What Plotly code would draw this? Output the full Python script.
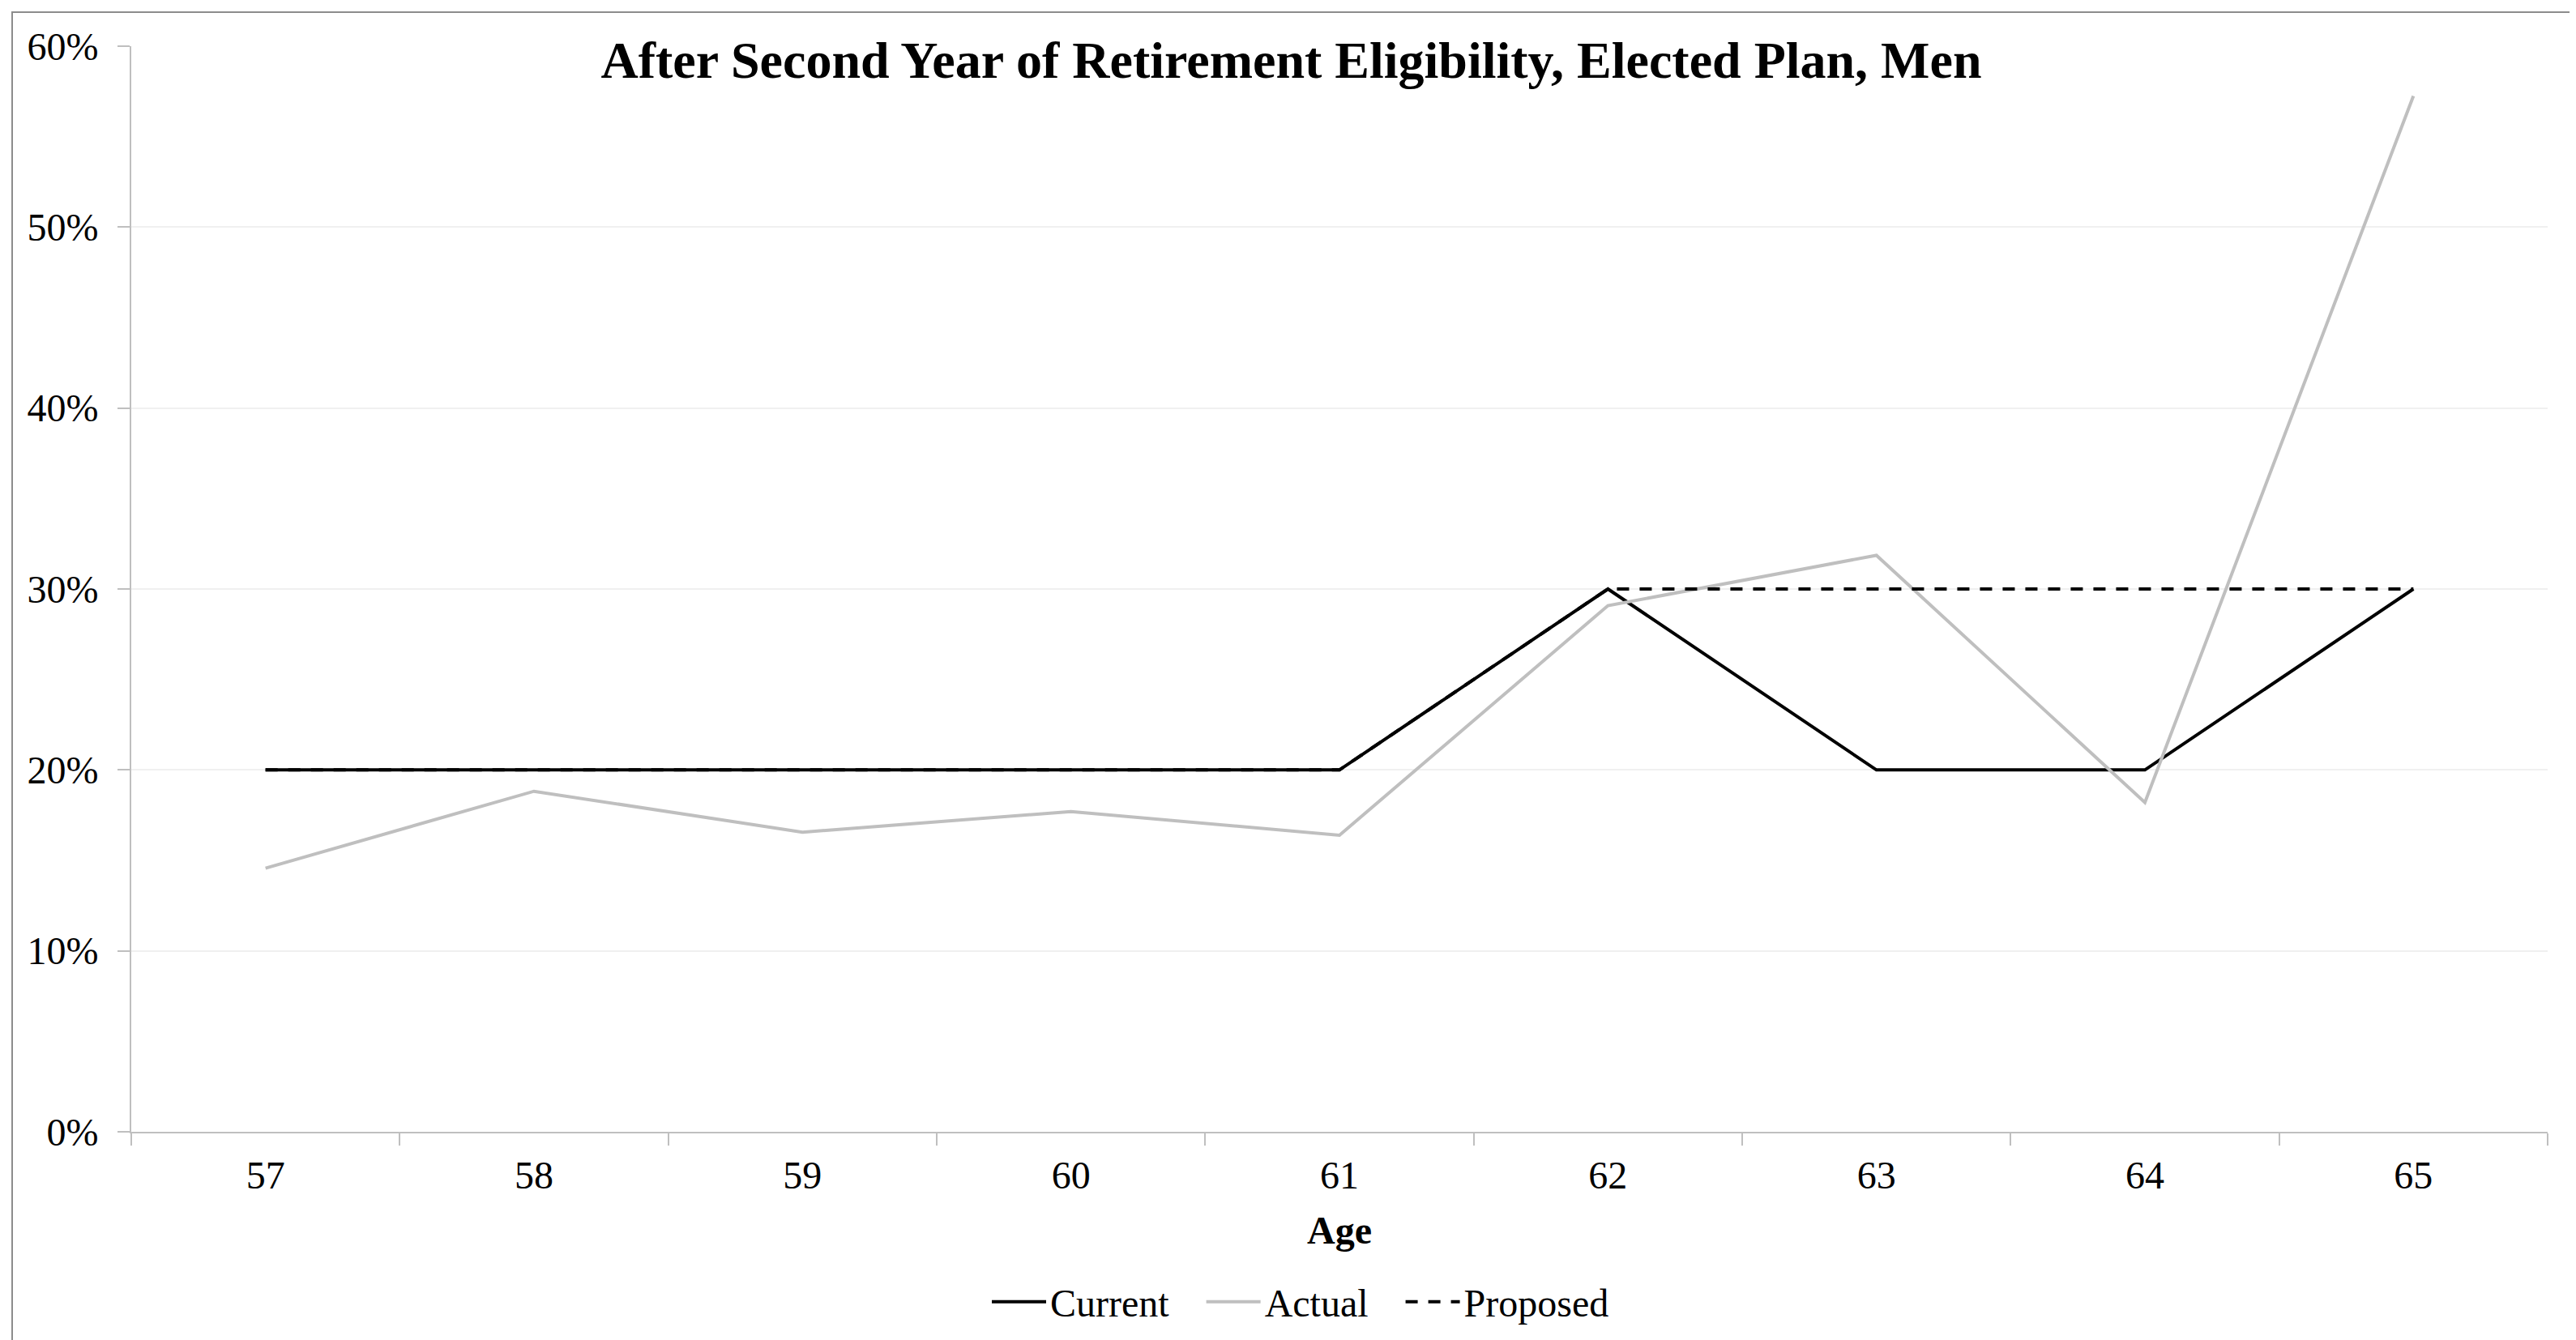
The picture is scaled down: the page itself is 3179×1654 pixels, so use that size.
import plotly.graph_objects as go

ages = ["57", "58", "59", "60", "61", "62", "63", "64", "65"]
current = [0.20, 0.20, 0.20, 0.20, 0.20, 0.30, 0.20, 0.20, 0.30]
actual = [0.1457, 0.1882, 0.1656, 0.1770, 0.1639, 0.2908, 0.3186, 0.1820, 0.5725]
proposed = [0.20, 0.20, 0.20, 0.20, 0.20, 0.30, 0.30, 0.30, 0.30]
y_ticks = [0, 0.1, 0.2, 0.3, 0.4, 0.5, 0.6]

# page body has an 8px default margin; figure coordinates are page - 8
OFF = 8
W, H = 3179 - OFF, 1654 - OFF
L, R, T, B = 162 - OFF, 3144 - OFF, 57 - OFF, 1397 - OFF
FONT = "Liberation Serif"
GAP = "\u00a0\u00a0\u00a0"

fig = go.Figure()
fig.add_trace(go.Scatter(x=ages, y=current, name="Current" + GAP, mode="lines",
                         line=dict(color="#000000", width=4)))
fig.add_trace(go.Scatter(x=ages, y=actual, name="Actual" + GAP, mode="lines",
                         line=dict(color="#BFBFBF", width=4)))
fig.add_trace(go.Scatter(x=ages, y=proposed, name="Proposed", mode="lines",
                         line=dict(color="#000000", width=4, dash="15px,13px")))

pw, ph = R - L, B - T
fig.add_shape(type="rect", xref="paper", yref="paper",
              x0=(15 - OFF - L) / pw, x1=(3173 - OFF - L) / pw,
              y0=(B - 1700) / ph, y1=(B - (15 - OFF)) / ph,
              line=dict(color="#8C8C8C", width=2), fillcolor="rgba(0,0,0,0)",
              layer="below")

fig.update_layout(
    width=W, height=H,
    margin=dict(l=L, r=W - R, t=T, b=H - B, autoexpand=False),
    paper_bgcolor="white", plot_bgcolor="white",
    font=dict(family=FONT, size=48, color="#000000"),
    title=dict(text="<b>After Second Year of Retirement Eligibility, Elected Plan, Men</b>",
               font=dict(family=FONT, size=64, color="#000000"),
               xref="container", x=0.5, xanchor="center",
               yref="container", y=1 - 66 / H, yanchor="middle"),
    showlegend=True,
    legend=dict(orientation="h", xref="container", yref="container",
                x=(1605 - OFF) / W, xanchor="center", y=1 - 1599 / H, yanchor="middle",
                font=dict(family=FONT, size=48), itemwidth=67,
                traceorder="normal", bgcolor="rgba(0,0,0,0)"),
    xaxis=dict(type="category", range=[-0.5, 8.5], tickson="boundaries",
               ticks="outside", ticklen=15, tickcolor="#BFBFBF", tickwidth=2,
               showline=True, linecolor="#BFBFBF", linewidth=2,
               showgrid=False, zeroline=False, automargin=False,
               tickfont=dict(family=FONT, size=48), ticklabelstandoff=10,
               title=dict(text="<b>Age</b>", font=dict(family=FONT, size=48), standoff=26)),
    yaxis=dict(range=[0, 0.6], tickvals=y_ticks, tickformat=".0%",
               ticks="outside", ticklen=15, tickcolor="#BFBFBF", tickwidth=2,
               showline=True, linecolor="#BFBFBF", linewidth=2,
               showgrid=True, gridcolor="#F0F0F0", gridwidth=2,
               zeroline=False, automargin=False,
               tickfont=dict(family=FONT, size=48),
               ticklabelstandoff=14),
)

fig.write_html("out.html")
